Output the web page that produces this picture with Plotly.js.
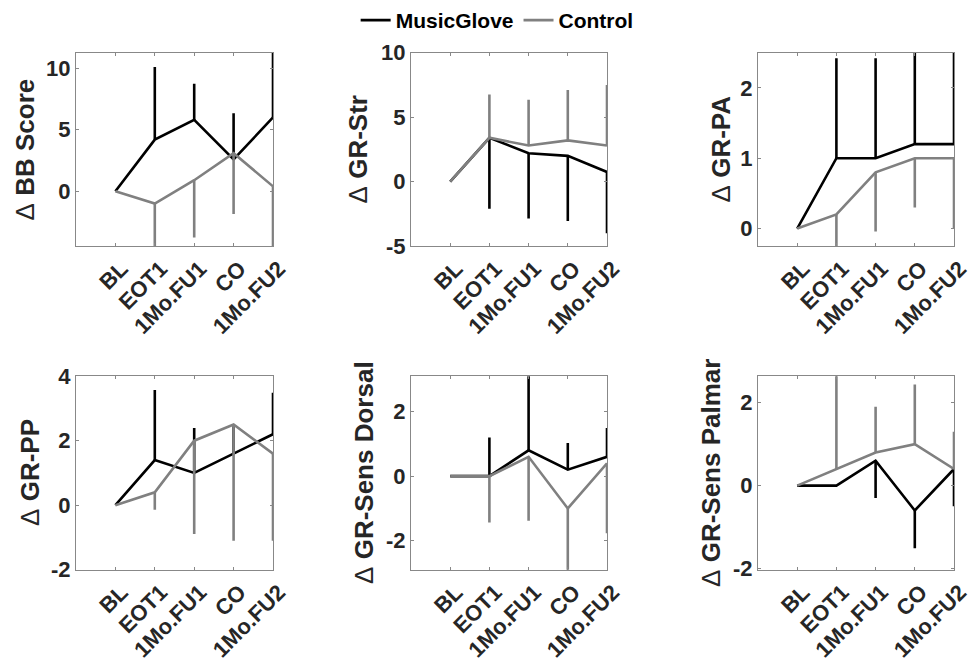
<!DOCTYPE html>
<html>
<head>
<meta charset="utf-8">
<script src="https://cdn.plot.ly/plotly-3.0.1.min.js"></script>
<style>html,body{margin:0;padding:0;background:#fff;}#chart{width:971px;height:663px;}</style>
</head>
<body>
<div id="chart"></div>
<script>
// ---- data ----
const timepoints = ["BL", "EOT1", "1Mo.FU1", "CO", "1Mo.FU2"];
const tpIndex = [1, 2, 3, 4, 5];
const seriesNames = ["MusicGlove", "Control"];
const panelTitles = ["BB Score", "GR-Str", "GR-PA", "GR-PP", "GR-Sens Dorsal", "GR-Sens Palmar"];

// BB Score
const bbMG = [0, 4.2, 5.8, 2.6, 6.0];
const bbMGPlus = [0, 5.9, 2.95, 3.75, 6.0];
const bbMGMinus = [0, 0, 0, 0, 0];
const bbCtrl = [0, -1.0, 0.9, 3.1, 0.4];
const bbCtrlPlus = [0, 0, 0, 0, 0];
const bbCtrlMinus = [0, 4.0, 4.65, 4.95, 5.0];

// GR-Str
const strMG = [0, 3.4, 2.2, 2.0, 0.75];
const strMGPlus = [0, 0, 0, 0, 0];
const strMGMinus = [0, 5.5, 5.05, 5.05, 4.75];
const strCtrl = [0, 3.4, 2.8, 3.2, 2.8];
const strCtrlPlus = [0, 3.35, 3.55, 3.9, 4.7];
const strCtrlMinus = [0, 0, 0, 0, 0];

// GR-PA
const paMG = [0, 1.0, 1.0, 1.2, 1.2];
const paMGPlus = [0, 1.42, 1.42, 1.5, 1.5];
const paMGMinus = [0, 0, 0, 0, 0];
const paCtrl = [0, 0.2, 0.8, 1.0, 1.0];
const paCtrlPlus = [0, 0, 0, 0, 0];
const paCtrlMinus = [0, 0.6, 0.84, 0.7, 1.0];

// GR-PP
const ppMG = [0, 1.4, 1.0, 1.6, 2.2];
const ppMGPlus = [0, 2.17, 1.39, 0.85, 1.29];
const ppMGMinus = [0, 0, 0, 0, 0];
const ppCtrl = [0, 0.4, 2.0, 2.5, 1.6];
const ppCtrlPlus = [0, 0, 0, 0, 0];
const ppCtrlMinus = [0, 0.54, 2.89, 3.6, 2.7];

// GR-Sens Dorsal
const dorMG = [0, 0, 0.8, 0.2, 0.6];
const dorMGPlus = [0, 1.2, 2.5, 0.83, 0.89];
const dorMGMinus = [0, 0, 0, 0, 0];
const dorCtrl = [0, 0, 0.6, -1.0, 0.4];
const dorCtrlPlus = [0, 0, 0, 0, 0];
const dorCtrlMinus = [0, 1.44, 1.98, 2.0, 2.17];

// GR-Sens Palmar
const palMG = [0, 0, 0.6, -0.6, 0.4];
const palMGPlus = [0, 0, 0, 0, 0];
const palMGMinus = [0, 0, 0.9, 0.91, 0.9];
const palCtrl = [0, 0.4, 0.8, 1.0, 0.4];
const palCtrlPlus = [0, 2.5, 1.1, 1.44, 0.9];
const palCtrlMinus = [0, 0, 0, 0, 0];

const yRanges = [[-4.46, 11.27], [-5, 10], [-0.25, 2.5], [-2, 4], [-2.9, 3.1], [-2.03, 2.64]];
const yTickVals = [[0, 5, 10], [-5, 0, 5, 10], [0, 1, 2], [-2, 0, 2, 4], [-2, 0, 2], [-2, 0, 2]];
const yTickText = [["0", "5", "10"], ["-5", "0", "5", "10"], ["0", "1", "2"], ["-2", "0", "2", "4"], ["-2", "0", "2"], ["-2", "0", "2"]];

// ---- build ----
const panels = [
  [bbMG, bbMGPlus, bbMGMinus, bbCtrl, bbCtrlPlus, bbCtrlMinus],
  [strMG, strMGPlus, strMGMinus, strCtrl, strCtrlPlus, strCtrlMinus],
  [paMG, paMGPlus, paMGMinus, paCtrl, paCtrlPlus, paCtrlMinus],
  [ppMG, ppMGPlus, ppMGMinus, ppCtrl, ppCtrlPlus, ppCtrlMinus],
  [dorMG, dorMGPlus, dorMGMinus, dorCtrl, dorCtrlPlus, dorCtrlMinus],
  [palMG, palMGPlus, palMGMinus, palCtrl, palCtrlPlus, palCtrlMinus]
];

const W = 971, H = 663;
const colPx = [[76, 273], [411, 607], [758, 954]];
const rowPx = [[48, 243], [374, 569]];
const titleX = [25, 358, 721, 30, 364, 711];
const colors = ["#000000", "#808080"];
const FONT = "Liberation Sans, Arial, Helvetica, sans-serif";

const traces = [];
const layout = {
  width: W, height: H,
  margin: {l: 0, r: 0, t: 0, b: 0},
  paper_bgcolor: "#ffffff", plot_bgcolor: "#ffffff",
  showlegend: true,
  legend: {orientation: "h", x: 0.512, xanchor: "center", y: 1.008, yanchor: "top",
           font: {family: FONT, size: 21, weight: "bold", color: "#000"}, itemwidth: 30, tracegroupgap: 0},
  annotations: []
};

panels.forEach((p, i) => {
  const r = Math.floor(i / 3), c = i % 3;
  const ax = i === 0 ? "" : String(i + 1);
  for (let s = 0; s < 2; s++) {
    traces.push({
      type: "scatter", mode: "lines",
      x: tpIndex, y: p[s * 3],
      xaxis: "x" + ax, yaxis: "y" + ax,
      name: seriesNames[s], showlegend: i === 0,
      line: {color: colors[s], width: 2.6},
      error_y: {type: "data", symmetric: false, array: p[s * 3 + 1], arrayminus: p[s * 3 + 2],
                width: 0, thickness: 2.6, color: colors[s]},
      hoverinfo: "skip"
    });
  }
  const axStyle = {
    showline: true, linecolor: "#888888", linewidth: 1, mirror: "ticks",
    ticks: "inside", ticklen: 3, tickcolor: "#888888", tickwidth: 1,
    showgrid: false, zeroline: false,
    tickfont: {family: FONT, size: 22, weight: "bold", color: "#262626"}
  };
  layout["xaxis" + ax] = Object.assign({}, axStyle, {
    domain: [colPx[c][0] / W, colPx[c][1] / W],
    range: [0, 5], tickmode: "array", tickvals: tpIndex, ticktext: timepoints,
    tickangle: -45, ticklabelshift: 6, ticklabeloverflow: "allow", anchor: "y" + ax
  });
  layout["yaxis" + ax] = Object.assign({}, axStyle, {
    domain: [1 - rowPx[r][1] / H, 1 - rowPx[r][0] / H],
    range: yRanges[i], tickmode: "array", tickvals: yTickVals[i], ticktext: yTickText[i], anchor: "x" + ax
  });
  layout.annotations.push({
    text: '<span style="font-weight:normal">\u0394</span> ' + panelTitles[i],
    textangle: -90, showarrow: false,
    xref: "paper", yref: "paper",
    x: titleX[i] / W, y: 1 - (rowPx[r][0] + rowPx[r][1]) / 2 / H,
    xanchor: "center", yanchor: "middle",
    font: {family: FONT, size: 26, weight: "bold", color: "#262626"}
  });
});

Plotly.newPlot("chart", traces, layout, {displayModeBar: false, staticPlot: true});
</script>
</body>
</html>
